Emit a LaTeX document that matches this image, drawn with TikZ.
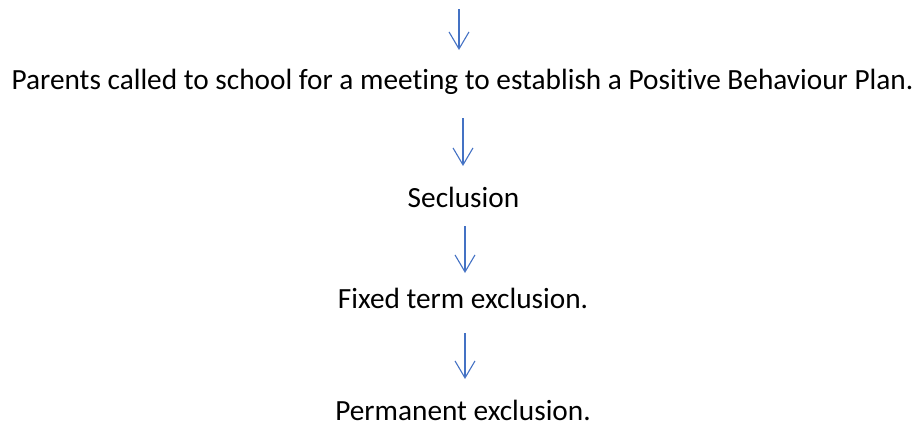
\documentclass[tikz,border=0pt]{standalone}
\usepackage{fontspec}
\setmainfont[Ligatures={NoCommon}]{Carlito}
\usetikzlibrary{arrows.meta}
\definecolor{arrblue}{HTML}{4472C4}
\begin{document}
\begin{tikzpicture}[x=1pt,y=-1pt,
  lbl/.style={anchor=base,inner sep=0pt,outer sep=0pt,text height=20pt,text depth=5pt,
    font=\fontsize{29.3}{34}\selectfont},
  arr/.style={draw=arrblue,line width=1.1pt,-{Straight Barb[length=17pt,width=20pt]}}]
\useasboundingbox (0,0) rectangle (920,426);
\node[lbl] (t1) at (462.5,89) {Parents called to school for a meeting to establish a Positive Behaviour Plan.};
\node[lbl] (t2) at (463.5,207) {Seclusion};
\node[lbl] (t3) at (463,308) {Fixed term exclusion.};
\node[lbl] (t4) at (463,420) {Permanent exclusion.};
\coordinate (a1s) at (459,9);
\draw[arr,shorten >=19pt] (a1s) -- (a1s |- t1.north);
\draw[arr,shorten <=24pt,shorten >=21pt] (t1.south -| 463,0) -- (t2.north -| 463,0);
\draw[arr,shorten <=14pt,shorten >=15pt] (t2.south -| 465,0) -- (t3.north -| 465,0);
\draw[arr,shorten <=20pt,shorten >=21pt] (t3.south -| 465,0) -- (t4.north -| 465,0);
\end{tikzpicture}
\end{document}
